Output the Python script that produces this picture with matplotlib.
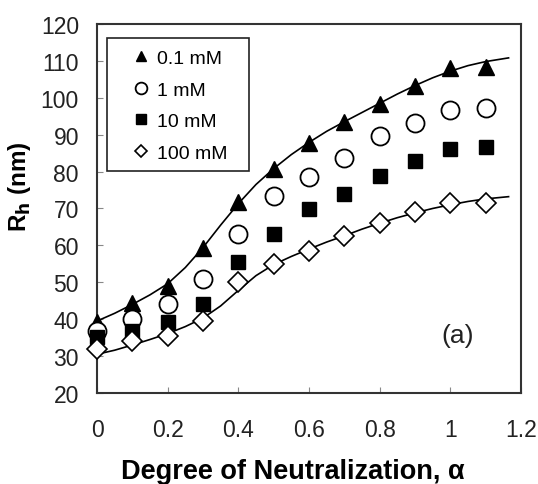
import matplotlib.pyplot as plt
from matplotlib.patches import Rectangle
import numpy as np

plt.rcParams['font.family'] = ['Liberation Sans', 'DejaVu Sans']

# Hydrodynamic radius vs degree of neutralization at four salt concentrations
alpha = [0, 0.1, 0.2, 0.3, 0.4, 0.5, 0.6, 0.7, 0.8, 0.9, 1.0, 1.1]
rh_01 = [39.3, 44.4, 49.0, 59.2, 71.8, 80.8, 87.8, 93.3, 98.3, 103.2, 108.0, 108.3]
rh_1 = [36.8, 40.0, 44.0, 51.0, 63.0, 73.4, 78.5, 83.8, 89.6, 93.2, 96.7, 97.2]
rh_10 = [35.2, 36.8, 39.2, 44.0, 55.5, 63.2, 69.9, 73.9, 78.9, 82.9, 86.1, 86.7]
rh_100 = [32.0, 34.0, 35.5, 39.5, 50.1, 55.0, 58.5, 62.5, 66.1, 69.0, 71.5, 71.5]

# fitted curves for the lowest and highest salt
fit_x = [0, 0.05, 0.1, 0.15, 0.2, 0.25, 0.3, 0.35, 0.4, 0.45, 0.5, 0.55,
         0.6, 0.65, 0.7, 0.75, 0.8, 0.85, 0.9, 0.95, 1.0, 1.05, 1.1, 1.165]
fit_01 = [39.5, 41.6, 44.0, 46.6, 49.6, 54.0, 59.4, 65.5, 71.3, 76.5, 80.8, 84.6,
          87.9, 90.9, 93.5, 96.0, 98.5, 101.0, 103.3, 105.4, 107.2, 108.7, 109.8, 110.8]
fit_100 = [30.5, 31.6, 33.0, 34.5, 36.1, 38.0, 40.3, 43.6, 47.8, 51.8, 54.8, 57.0,
           59.0, 60.9, 62.6, 64.4, 66.0, 67.5, 68.8, 70.0, 71.0, 71.9, 72.6, 73.2]

fig = plt.figure(figsize=(5.38, 4.85), dpi=100)
ax = fig.add_axes([0.1803, 0.1876, 0.788, 0.761])

ax.plot(fit_x, fit_01, color='black', lw=1.2, zorder=2)
ax.plot(fit_x, fit_100, color='black', lw=1.2, zorder=2)

ax.plot(alpha, rh_01, linestyle='none', marker='^', ms=12, color='black',
        label='0.1 mM', zorder=3, clip_on=False)
ax.plot(alpha, rh_1, linestyle='none', marker='o', ms=13, mfc='white', mec='black', mew=1.3,
        label='1 mM', zorder=3, clip_on=False)
ax.plot(alpha, rh_10, linestyle='none', marker='s', ms=10, color='black',
        label='10 mM', zorder=3, clip_on=False)
ax.plot(alpha, rh_100, linestyle='none', marker='D', ms=10, mfc='white', mec='black', mew=1.2,
        label='100 mM', zorder=3, clip_on=False)

ax.set_xlim(0, 1.2)
ax.set_ylim(20, 120)
ax.set_xticks(np.arange(0, 1.21, 0.2))
ax.set_xticklabels(['0', '0.2', '0.4', '0.6', '0.8', '1', '1.2'])
ax.set_yticks(np.arange(20, 121, 10))
ax.tick_params(direction='in', length=4, width=0.8, color='#888888', labelsize=16.5,
               labelcolor='#222222')
ax.tick_params(axis='x', pad=18)
ax.tick_params(axis='y', pad=13)
for s in ax.spines.values():
    s.set_linewidth(1.5)
    s.set_color('#333333')

ax.set_xlabel('Degree of Neutralization, α', fontsize=19.5, fontweight='bold')
ax.xaxis.set_label_coords(0.462, -0.175)
ax.set_ylabel(r'R$_\mathbf{h}$ (nm)', fontsize=17.5, fontweight='bold')
ax.yaxis.set_label_coords(-0.151, 0.561)

ax.text(1.02, 35.8, '(a)', fontsize=19, ha='center', va='center', color='#222222')

# legend: markers only, with a plain rectangular frame
leg = ax.legend(loc='upper left', bbox_to_anchor=(0.072, 0.947), borderaxespad=0,
                fontsize=14, frameon=False, markerscale=0.65, handlelength=0.8,
                handletextpad=0.4, labelspacing=0.72, borderpad=0.3)
ax.add_patch(Rectangle((0.0236, 0.602), 0.335, 0.36, transform=ax.transAxes,
                       fill=False, edgecolor='#222222', lw=1.2, zorder=4))

fig.savefig('out.png', dpi=100)
